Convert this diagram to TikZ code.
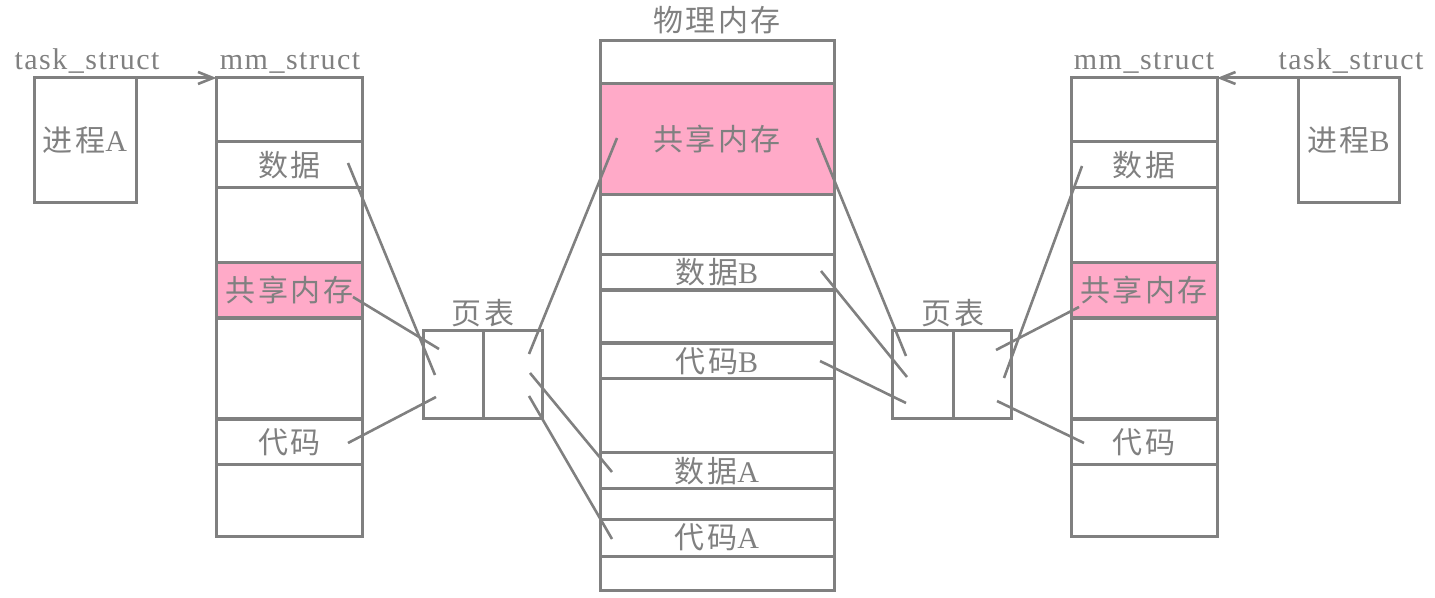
\documentclass[tikz,border=0pt]{standalone}
\usepackage{fontspec}
\setmainfont{Liberation Serif}[LetterSpace=5]
\newfontfamily\zhfont{Noto Sans CJK SC}[LetterSpace=8]
\newcommand\zh[1]{{\zhfont #1}}
\usetikzlibrary{arrows.meta}
\definecolor{linegray}{RGB}{128,128,128}
\definecolor{shmpink}{RGB}{255,170,200}
\tikzset{
  cell/.style={draw=linegray, line width=1.5pt, inner sep=0pt, outer sep=0pt,
    text=linegray, font=\fontsize{15pt}{18pt}\selectfont, rectangle},
  mmcell/.style={cell, minimum width=73pt},
  phcell/.style={cell, minimum width=117pt},
  pink/.style={fill=shmpink},
  title/.style={text=linegray, font=\fontsize{15pt}{18pt}\selectfont, inner sep=0pt, anchor=base},
  conn/.style={draw=linegray, line width=1.3pt},
  ptr/.style={draw=linegray, line width=1.5pt, -{Straight Barb[length=7.5pt,width=6pt,line width=1.3pt]}},
}
\begin{document}
\begin{tikzpicture}[x=0.5pt,y=-0.5pt]
\path[use as bounding box] (0,0) rectangle (1435,598);

% ---------- process A ----------
\node[cell, minimum width=51pt, minimum height=62.5pt] (procA) at (85,140.5) {\zh{进程}A};
\node[title] (tsA) at (87,70) {task\_struct};

% ---------- left mm_struct ----------
\node[title] (mmA) at (290,70) {mm\_struct};
\node[mmcell, minimum height=32pt] (L1) at (289.5,110) {};
\node[mmcell, minimum height=23pt] (Ldata) at (289.5,165) {\zh{数据}};
\node[mmcell, minimum height=37.5pt] (L3) at (289.5,225) {};
\node[mmcell, pink, minimum height=27.5pt] (Lshm) at (289.5,290.5) {\zh{共享内存}};
\node[mmcell, minimum height=50.5pt] (L5) at (289.5,369) {};
\node[mmcell, minimum height=23pt] (Lcode) at (289.5,442) {\zh{代码}};
\node[mmcell, minimum height=35.5pt] (L7) at (289.5,500.5) {};
\draw[ptr] (procA.north east) -- (L1.north west);

% ---------- left page table ----------
\node[title] (ptA) at (483,325) {\zh{页表}};
\node[cell, minimum width=30pt, minimum height=44pt] (PTL1) at (453,375) {};
\node[cell, minimum width=29.5pt, minimum height=44pt] (PTL2) at (512.5,375) {};

% ---------- physical memory ----------
\node[title] (phys) at (717,32) {\zh{物理内存}};
\node[phcell, minimum height=21.5pt] (P1) at (717,62.5) {};
\node[phcell, pink, minimum height=55.5pt] (Pshm) at (717,139.5) {\zh{共享内存}};
\node[phcell, minimum height=30pt] (P3) at (717,225) {};
\node[phcell, minimum height=17.5pt] (PdataB) at (717,272.5) {\zh{数据}B};
\node[phcell, minimum height=26.5pt] (P5) at (717,317) {};
\node[phcell, minimum height=18pt] (PcodeB) at (717,361) {\zh{代码}B};
\node[phcell, minimum height=37pt] (P7) at (717,416) {};
\node[phcell, minimum height=18pt] (PdataA) at (717,471) {\zh{数据}A};
\node[phcell, minimum height=15pt] (P9) at (717,504) {};
\node[phcell, minimum height=18.5pt] (PcodeA) at (717,537.5) {\zh{代码}A};
\node[phcell, minimum height=17pt] (P11) at (717,573) {};

% ---------- right page table ----------
\node[title] (ptB) at (953,325) {\zh{页表}};
\node[cell, minimum width=30.5pt, minimum height=44pt] (PTR1) at (922.5,375) {};
\node[cell, minimum width=29pt, minimum height=44pt] (PTR2) at (982,375) {};

% ---------- right mm_struct ----------
\node[title] (mmB) at (1144,70) {mm\_struct};
\node[mmcell, minimum height=32pt] (R1) at (1144,110) {};
\node[mmcell, minimum height=23pt] (Rdata) at (1144,165) {\zh{数据}};
\node[mmcell, minimum height=37.5pt] (R3) at (1144,225) {};
\node[mmcell, pink, minimum height=27.5pt] (Rshm) at (1144,290.5) {\zh{共享内存}};
\node[mmcell, minimum height=50.5pt] (R5) at (1144,369) {};
\node[mmcell, minimum height=23pt] (Rcode) at (1144,442) {\zh{代码}};
\node[mmcell, minimum height=35.5pt] (R7) at (1144,500.5) {};

% ---------- process B ----------
\node[cell, minimum width=50.5pt, minimum height=62.5pt] (procB) at (1348.5,140.5) {\zh{进程}B};
\node[title] (tsB) at (1351,70) {task\_struct};
\draw[ptr] (procB.north west) -- (R1.north east);

% ---------- connector end points ----------
\coordinate (a1) at (348,163); \coordinate (a2) at (435,375);
\coordinate (b1) at (353,297); \coordinate (b2) at (439,349);
\coordinate (c1) at (348,443); \coordinate (c2) at (436,397);
\coordinate (d1) at (529,354); \coordinate (d2) at (617,138);
\coordinate (e1) at (530,373); \coordinate (e2) at (612,472);
\coordinate (f1) at (529,396); \coordinate (f2) at (612,539);
\coordinate (g1) at (817,138); \coordinate (g2) at (906,356);
\coordinate (h1) at (821,271); \coordinate (h2) at (907,377);
\coordinate (i1) at (820,361); \coordinate (i2) at (906,403);
\coordinate (j1) at (1082,166); \coordinate (j2) at (1004,378);
\coordinate (k1) at (1079,307); \coordinate (k2) at (996,350);
\coordinate (l1) at (1084,443); \coordinate (l2) at (997,401);

\draw[conn] (a1) -- (a2);
\draw[conn] (b1) -- (b2);
\draw[conn] (c1) -- (c2);
\draw[conn] (d1) -- (d2);
\draw[conn] (e1) -- (e2);
\draw[conn] (f1) -- (f2);
\draw[conn] (g1) -- (g2);
\draw[conn] (h1) -- (h2);
\draw[conn] (i1) -- (i2);
\draw[conn] (j1) -- (j2);
\draw[conn] (k1) -- (k2);
\draw[conn] (l1) -- (l2);
\end{tikzpicture}
\end{document}
